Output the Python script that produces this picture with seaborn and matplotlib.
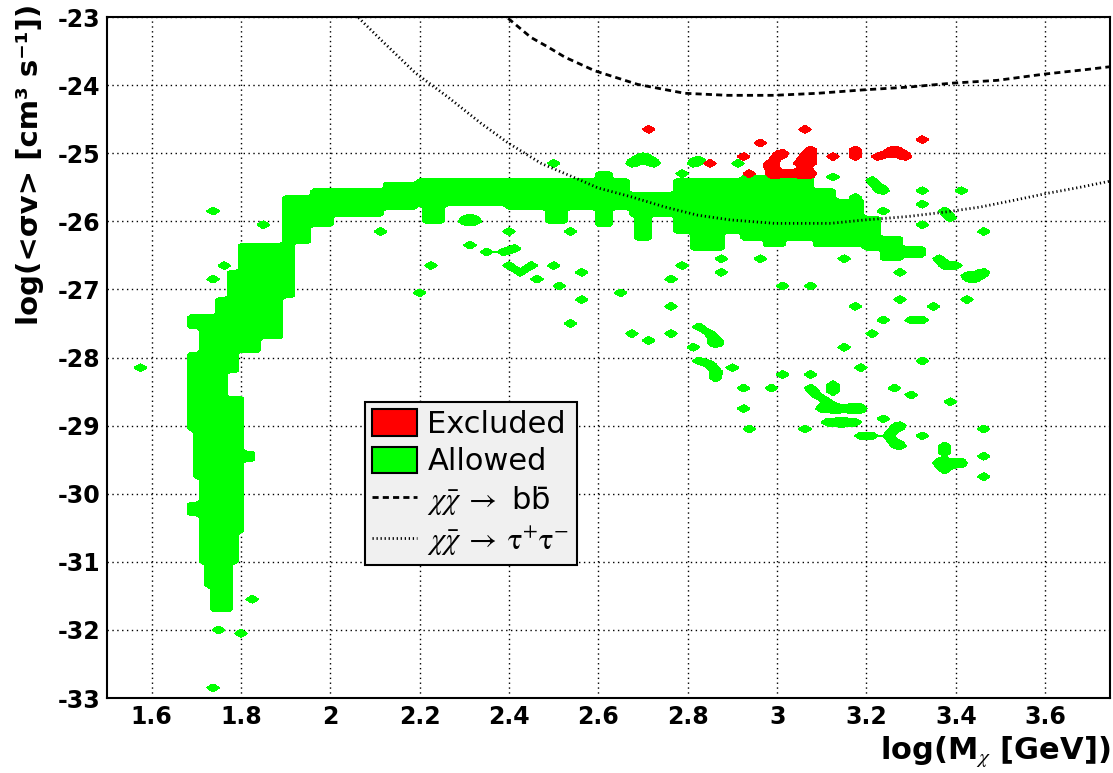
import numpy as np
import matplotlib
matplotlib.use("Agg")
import matplotlib.pyplot as plt
import seaborn as sns
from matplotlib.patches import Patch
from matplotlib.lines import Line2D
from matplotlib.ticker import MultipleLocator, FuncFormatter

# ---------------- data ----------------
# Allowed region: main band pieces (x0, x1, y0, y1) in log(M) / log(<sigma v>)
band_x0 = [1.899, 1.794, 1.768, 1.743, 1.678, 1.700, 1.700, 1.678, 1.678, 1.678,
           1.698, 1.810, 1.705, 1.678, 1.700, 1.705, 1.723, 1.727,
           1.924, 1.962, 2.000, 2.123, 2.197, 2.212, 2.398, 2.476, 2.592, 2.637,
           2.673, 2.682, 2.771, 2.800, 2.918, 2.968, 3.084, 3.084, 3.196, 3.225, 3.281]
band_x1 = [1.940, 1.924, 1.794, 1.899, 1.743, 1.743, 1.844, 1.794, 1.768, 1.810,
           1.810, 1.835, 1.812, 1.810, 1.812, 1.788, 1.785, 1.776,
           1.962, 2.000, 2.123, 2.197, 2.398, 2.257, 2.592, 2.532, 2.637, 2.673,
           2.771, 2.717, 2.918, 2.883, 3.084, 3.023, 3.196, 3.135, 3.225, 3.281, 3.336]
band_y0 = [-26.32, -27.11, -27.11, -27.74, -27.60, -27.92, -27.92, -28.21, -28.60, -29.07,
           -29.80, -29.54, -30.14, -30.34, -30.58, -31.02, -31.37, -31.74,
           -26.32, -26.10, -25.91, -25.84, -25.79, -26.01, -25.81, -26.01, -26.09, -25.84,
           -25.91, -26.28, -26.16, -26.42, -26.28, -26.38, -26.38, -25.69, -26.42, -26.60, -26.54]
band_y1 = [-25.62, -26.32, -26.72, -27.11, -27.38, -27.60, -27.74, -27.92, -28.21, -28.60,
           -29.07, -29.39, -29.80, -30.14, -30.34, -30.58, -31.02, -31.37,
           -25.65, -25.54, -25.51, -25.42, -25.40, -25.79, -25.37, -25.81, -25.28, -25.40,
           -25.57, -25.84, -25.40, -26.16, -25.32, -26.28, -25.69, -25.54, -25.91, -26.25, -26.39]

# Allowed region: isolated cells
allowed_x = [1.734, 1.846, 1.734, 1.761, 1.578, 1.823, 1.756, 1.801, 1.732,
             2.114, 2.315, 2.226, 2.203, 2.404, 2.539, 2.353, 2.382, 2.409,
             2.404, 2.431, 2.458, 2.454, 2.494, 2.509, 2.561, 2.561,
             2.299, 2.315, 2.331, 2.498, 2.670, 2.684, 2.695, 2.708, 2.722,
             2.784, 2.807, 2.822, 2.918, 3.124, 3.209, 3.225, 3.240, 3.236, 3.173,
             2.784, 2.762, 2.878, 2.878, 2.968, 3.012, 3.079, 3.146, 3.280, 3.280,
             2.650, 2.762, 3.173, 2.539, 2.673, 2.717, 2.764,
             2.827, 2.845, 2.858, 2.863, 2.811, 2.827, 2.845, 2.858, 2.863,
             2.901, 2.921, 2.921, 2.943, 2.990, 3.012, 3.057, 3.079,
             3.073, 3.091, 3.108, 3.126, 3.142, 3.160, 3.178, 3.193, 3.124, 3.131, 3.095,
             3.117, 3.135, 3.153, 3.171, 3.146, 3.169, 3.191, 3.191, 3.209,
             3.276, 3.263, 3.247, 3.263, 3.280, 3.236, 3.258, 3.303, 3.325, 3.325,
             3.347, 3.303, 3.325, 3.236, 3.213, 3.392,
             3.370, 3.381, 3.359, 3.377, 3.394, 3.412, 3.381,
             3.459, 3.459, 3.459, 3.419, 3.327, 3.327, 3.327, 3.415, 3.374, 3.392,
             3.459, 3.359, 3.374, 3.403, 3.421, 3.437, 3.453, 3.464]
allowed_y = [-25.85, -26.07, -26.85, -26.64, -28.16, -31.56, -32.00, -32.05, -32.85,
             -26.17, -26.36, -26.67, -27.07, -26.17, -26.17, -26.47, -26.44, -26.38,
             -26.67, -26.76, -26.86, -26.67, -26.67, -26.97, -26.76, -27.16,
             -26.01, -25.94, -26.01, -25.16, -25.17, -25.10, -25.03, -25.10, -25.17,
             -25.28, -25.17, -25.10, -25.15, -25.37, -25.42, -25.50, -25.57, -25.84, -25.66,
             -26.67, -26.86, -26.57, -26.76, -26.57, -26.97, -26.97, -26.57, -26.76, -27.16,
             -27.05, -27.26, -27.26, -27.48, -27.64, -27.76, -27.64,
             -27.55, -27.64, -27.74, -27.82, -27.86, -28.04, -28.11, -28.21, -28.29,
             -28.16, -28.46, -28.76, -29.05, -28.46, -28.26, -29.05, -28.26,
             -28.45, -28.55, -28.65, -28.74, -28.74, -28.74, -28.74, -28.74, -28.38, -28.48, -28.77,
             -28.95, -28.95, -28.95, -28.95, -27.86, -27.26, -28.16, -29.15, -29.15,
             -29.01, -29.07, -29.15, -29.24, -29.29, -28.88, -28.46, -28.57, -29.17, -28.07,
             -27.26, -27.47, -27.47, -27.47, -27.66, -28.65,
             -29.32, -29.39, -29.54, -29.54, -29.54, -29.54, -29.65,
             -29.05, -29.46, -29.76, -27.16, -25.57, -25.76, -26.06, -25.57, -25.84, -25.95,
             -26.17, -26.54, -26.64, -26.67, -26.79, -26.86, -26.80, -26.75]

# Excluded cells
excluded_x = [2.717, 3.057, 2.968, 2.923, 2.856, 2.941,
              3.001, 3.012, 2.990, 2.983, 2.990, 3.006, 3.019,
              3.079, 3.079, 3.079, 3.079, 3.064, 3.052, 3.052, 3.066,
              3.124, 3.169, 3.169, 3.231, 3.246, 3.260, 3.276, 3.291, 3.330]
excluded_y = [-24.66, -24.66, -24.85, -25.06, -25.15, -25.28,
              -25.03, -25.00, -25.13, -25.20, -25.28, -25.28, -25.28,
              -24.96, -25.06, -25.17, -25.28, -25.03, -25.17, -25.28, -25.28,
              -25.06, -24.96, -25.06, -25.06, -24.98, -24.93, -24.98, -25.06, -24.78]

# Limit curves
bb_mass = [2.398, 2.449, 2.487, 2.525, 2.592, 2.688, 2.793, 2.889, 2.994, 3.091,
           3.193, 3.292, 3.394, 3.493, 3.596, 3.694, 3.745]
bb_sigmav = [-23.02, -23.30, -23.44, -23.59, -23.79, -23.99, -24.12, -24.15, -24.15, -24.12,
             -24.07, -24.03, -23.97, -23.93, -23.84, -23.77, -23.73]
tau_mass = [2.063, 2.114, 2.190, 2.264, 2.337, 2.398, 2.472, 2.561, 2.599, 2.673, 2.749,
            2.822, 2.896, 2.994, 3.120, 3.196, 3.292, 3.381, 3.455, 3.531, 3.604,
            3.678, 3.745]
tau_sigmav = [-23.01, -23.34, -23.82, -24.18, -24.56, -24.85, -25.15, -25.40, -25.51, -25.64,
              -25.79, -25.91, -25.98, -26.03, -26.03, -25.98, -25.93, -25.86, -25.79,
              -25.69, -25.59, -25.50, -25.41]

legend_labels = ["Excluded", "Allowed",
                 r"$\chi\bar{\chi}\;\rightarrow$ b" + "b\u0304",
                 r"$\chi\bar{\chi}\;\rightarrow\;\mathrm{\tau^{+}\tau^{-}}$"]

# ---------------- style ----------------
sns.set_theme(style="white")
plt.rcParams['font.family'] = ['DejaVu Sans']
plt.rcParams['mathtext.fontset'] = 'stix'
plt.rcParams['axes.unicode_minus'] = False
plt.rcParams['text.color'] = 'black'
plt.rcParams['xtick.color'] = 'black'
plt.rcParams['ytick.color'] = 'black'
plt.rcParams['axes.labelcolor'] = 'black'

fig = plt.figure(figsize=(11.13, 7.73), dpi=100)
ax = fig.add_axes([0.0961, 0.097, 0.9012, 0.881])

# ---------------- 2D histogram cells ----------------
gx = np.arange(1.5, 3.7501, 0.0125)
gy = np.arange(-33.0, -22.999, 0.05)
GX, GY = np.meshgrid(gx, gy)


def smooth(a):
    k = [0.25, 0.5, 0.25]
    p = np.pad(a, 1)
    a = k[0] * p[:-2, 1:-1] + k[1] * p[1:-1, 1:-1] + k[2] * p[2:, 1:-1]
    p = np.pad(a, 1)
    return k[0] * p[1:-1, :-2] + k[1] * p[1:-1, 1:-1] + k[2] * p[1:-1, 2:]


band = np.zeros_like(GX)
for x0, x1, y0, y1 in zip(band_x0, band_x1, band_y0, band_y1):
    band[(GX >= x0) & (GX <= x1) & (GY >= y0) & (GY <= y1)] = 1.0
spots = np.zeros_like(GX)
for x, y in zip(allowed_x, allowed_y):
    spots[np.argmin(np.abs(gy - y)), np.argmin(np.abs(gx - x))] = 1.0
excluded = np.zeros_like(GX)
for x, y in zip(excluded_x, excluded_y):
    excluded[np.argmin(np.abs(gy - y)), np.argmin(np.abs(gx - x))] = 1.0

green = '#00ff00'
ax.contourf(GX, GY, band, levels=[0.5, 2.0], colors=[green], zorder=2)
ax.contourf(GX, GY, smooth(spots), levels=[0.11, 5.0], colors=[green], zorder=2)
ax.contourf(GX, GY, smooth(excluded), levels=[0.11, 5.0], colors=['#ff0000'], zorder=3)

# ---------------- curves ----------------
sns.lineplot(x=bb_mass, y=bb_sigmav, ax=ax, color='black', linewidth=2.0,
             linestyle=(0, (2.2, 1.5)), zorder=4)
sns.lineplot(x=tau_mass, y=tau_sigmav, ax=ax, color='black', linewidth=2.0,
             linestyle=(0, (0.45, 1.0)), zorder=4)

# ---------------- axes ----------------
ax.set_xlim(1.5, 3.745)
ax.set_ylim(-33, -23)
ax.xaxis.set_major_locator(MultipleLocator(0.2))
ax.xaxis.set_minor_locator(MultipleLocator(0.05))
ax.yaxis.set_major_locator(MultipleLocator(1))
ax.yaxis.set_minor_locator(MultipleLocator(0.2))
fmt = FuncFormatter(lambda v, p: ('%.1f' % v).rstrip('0').rstrip('.'))
ax.xaxis.set_major_formatter(fmt)
ax.yaxis.set_major_formatter(FuncFormatter(lambda v, p: '%d' % round(v)))
ax.tick_params(axis='both', which='both', direction='in', top=False, right=False,
               colors='black', width=1.1)
ax.tick_params(axis='x', which='major', length=14, pad=5, labelsize=17)
ax.tick_params(axis='x', which='minor', length=7)
ax.tick_params(axis='y', which='major', length=22, pad=5, labelsize=17)
ax.tick_params(axis='y', which='minor', length=11)
for lab in ax.get_xticklabels() + ax.get_yticklabels():
    lab.set_fontweight('bold')
ax.grid(True, which='major', color='black', linestyle=(0, (1.0, 2.5)), linewidth=1.0)
ax.set_axisbelow(True)
for s in ax.spines.values():
    s.set_color('black')
    s.set_linewidth(1.5)
ax.set_xlabel('')
ax.set_ylabel('')

fig.text(30 / 1113, 1 - 4 / 773, 'log(<σv> [cm³ s⁻¹])', rotation=90, ha='center', va='top',
         fontsize=21, fontweight='bold')
fig.text(1110 / 1113, 1 - 770 / 773, r'log(M$_{\chi}$ [GeV])', ha='right', va='bottom',
         fontsize=22, fontweight='bold')

# ---------------- legend ----------------
handles = [Patch(facecolor='#ff0000', edgecolor='black', linewidth=1.5),
           Patch(facecolor='#00ff00', edgecolor='black', linewidth=1.5),
           Line2D([0], [0], color='black', linewidth=2.0, linestyle=(0, (2.2, 1.5))),
           Line2D([0], [0], color='black', linewidth=2.0, linestyle=(0, (0.45, 1.0)))]
leg = ax.legend(handles, legend_labels, loc='upper left', bbox_to_anchor=(0.257, 0.435),
                borderaxespad=0, fontsize=22, frameon=True, fancybox=False,
                facecolor='#f0f0f0', edgecolor='black', framealpha=1,
                handlelength=1.45, handleheight=0.95, handletextpad=0.35,
                labelspacing=0.25, borderpad=0.25)
leg.get_frame().set_linewidth(1.5)
leg.set_zorder(10)

fig.savefig('out.png', dpi=100, facecolor='white')
